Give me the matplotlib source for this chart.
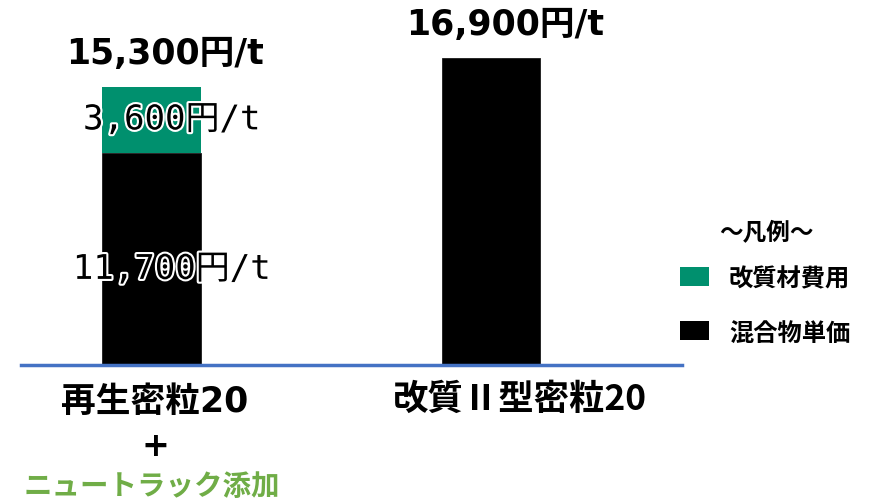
import matplotlib
matplotlib.use("Agg")
import matplotlib.pyplot as plt
import matplotlib.patheffects as pe
from matplotlib.patches import Rectangle

plt.rcParams['font.family'] = ['Noto Sans CJK JP', 'DejaVu Sans']

# data
categories = ["再生密粒20", "改質Ⅱ型密粒20"]
mix_cost = [11700, 16900]       # 混合物単価
modifier_cost = [3600, 0]       # 改質材費用
legend_labels = ["改質材費用", "混合物単価"]

GREEN = '#00906E'
BLUE = '#4472C4'
LIME = '#70AD47'

W, H = 875, 504

# latin glyphs from DejaVu (wide, Verdana-like), kanji from Noto
wide = ['DejaVu Sans', 'Noto Sans CJK JP']
mono = ['DejaVu Sans Mono', 'Noto Sans CJK JP']


def px(x, y):
    # pixel position (from top-left) -> figure fraction
    return x / W, 1 - y / H


fig = plt.figure(figsize=(W / 100, H / 100), dpi=100)
ax = fig.add_axes([20.7 / W, 139 / H, 661.3 / W, 345 / H])

xpos = range(len(categories))
ax.bar(xpos, mix_cost, width=0.29, color='black', edgecolor='#1a1a1a', linewidth=0.6)
ax.bar(xpos, modifier_cost, bottom=mix_cost, width=0.29, color=GREEN)

ax.set_xlim(-0.385, 1.5625)
ax.set_ylim(0, 19000)
for s in ['top', 'left', 'right']:
    ax.spines[s].set_visible(False)
ax.spines['bottom'].set_color(BLUE)
ax.spines['bottom'].set_linewidth(2.5)
ax.set_xticks([])
ax.set_yticks([])

# totals above bars
totals = [m + a for m, a in zip(mix_cost, modifier_cost)]
for i, t in enumerate(totals):
    ax.annotate(f"{t:,}円/t", (i, t), xytext=(14, 33), textcoords='offset pixels',
                ha='center', va='center', fontsize=25, fontweight='bold', family=wide)

# segment values inside the stacked bar
outline = [pe.withStroke(linewidth=3, foreground='white')]
for i, (m, a) in enumerate(zip(mix_cost, modifier_cost)):
    if a == 0:
        continue
    ax.text(i + 0.06, m + a / 2, f"{a:,}円/t", ha='center', va='center',
            fontsize=24.5, family=mono, path_effects=outline)
    ax.text(i + 0.06, m * 0.45, f"{m:,}円/t", ha='center', va='center',
            fontsize=24.5, family=mono, path_effects=outline)

# category labels
fig.text(*px(155, 402), categories[0], ha='center', va='center', fontsize=25,
         fontweight='bold', family=wide)
fig.text(*px(155, 446), "+", ha='center', va='center', fontsize=24, fontweight='bold', family=wide)
fig.text(*px(152, 487), "ニュートラック添加", ha='center', va='center',
         fontsize=20.5, fontweight='bold', color=LIME)
fig.text(*px(520, 399), categories[1], ha='center', va='center', fontsize=25.5,
         fontweight='bold')

# legend
fig.text(*px(766, 233), "～凡例～", ha='center', va='center', fontsize=17, fontweight='bold')
for (y, c, lab) in [(276.5, GREEN, legend_labels[0]), (330.5, 'black', legend_labels[1])]:
    x0, y0 = px(680, y + 9.5)
    fig.patches.append(Rectangle((x0, y0), 29 / W, 19 / H, transform=fig.transFigure,
                                 facecolor=c, edgecolor='none'))
    fig.text(*px(729, y + 3), lab, ha='left', va='center', fontsize=17.5, fontweight='bold')

fig.savefig("out.png", dpi=100)
